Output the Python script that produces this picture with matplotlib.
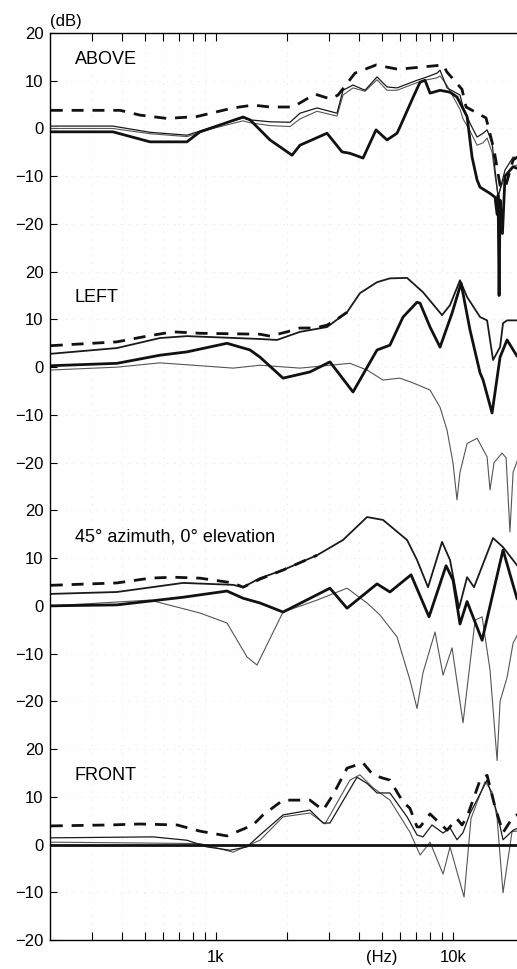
import matplotlib.pyplot as plt
import numpy as np
from matplotlib.ticker import NullFormatter

plt.rcParams['font.family'] = ['Liberation Sans', 'DejaVu Sans']

# four stacked panels, each drawn about its own zero, 50 dB apart
panel_names = ["ABOVE", "LEFT", "45\u00b0 azimuth, 0\u00b0 elevation", "FRONT"]
panel_offsets = [150, 100, 50, 0]

# ---- ABOVE ----
above_sum_f = [201, 394, 478, 621, 831, 1180, 1433, 1690, 2113, 2617, 3030, 3272, 3859,
               4733, 5861, 7470, 9075, 9434, 10910, 11350, 13780, 14890, 15790, 16570,
               17920, 20000]
above_sum_db = [3.8, 3.8, 2.8, 2.1, 2.5, 4.3, 4.9, 4.5, 4.5, 7.2, 6.2, 7.0, 11.6,
                13.3, 12.4, 12.9, 13.3, 11.8, 8.2, 4.5, 2.2, -4.5, -11.9, -12.5,
                -6.6, -5.0]

above_thin_f = [201, 367, 527, 754, 971, 1300, 1392, 1690, 2052, 2262, 2668, 3240, 3435,
                3785, 4254, 4779, 5266, 5803, 7049, 7768, 8561, 8814, 9434, 10700, 11020,
                11790, 12630, 13390, 13920, 14610, 15040, 15490, 16570, 17920, 20000]
above_thin_db = [0.5, 0.5, -0.8, -1.4, 0.3, 2.2, 1.8, 1.4, 1.3, 3.2, 4.3, 3.2, 8.0,
                 9.1, 8.0, 10.8, 8.7, 8.5, 10.1, 10.8, 11.6, 12.2, 8.5, 7.0, 4.5,
                 1.1, -1.8, -1.0, -0.3, -3.0, -8.7, -14.4, -8.7, -6.0, -6.5]
above_grey_db = [0.0, 0.0, -1.1, -1.7, 0.0, 1.6, 1.2, 0.6, 0.4, 2.0, 3.6, 2.6, 7.0,
                 8.5, 7.8, 10.2, 8.0, 8.0, 9.6, 10.2, 10.6, 11.0, 9.0, 4.0, 2.0,
                 -0.5, -3.5, -3.0, -2.0, -5.0, -10.0, -14.0, -10.0, -8.0, -7.0]

above_thick_f = [201, 367, 527, 754, 856, 1300, 1392, 1690, 2093, 2262, 2940, 3401, 3673,
                 4172, 4733, 5266, 5803, 5968, 6795, 7259, 7617, 7998, 8814, 9712, 10390,
                 11460, 12030, 12630, 13000, 14320, 15030, 15340, 15490, 15640, 15790,
                 16160, 16570, 17920, 20000]
above_thick_db = [-0.7, -0.7, -2.8, -2.8, -0.7, 2.4, 1.8, -2.4, -5.6, -3.5, -1.0, -4.9, -5.2,
                  -6.2, -0.3, -2.4, -1.0, 0.3, 6.6, 9.7, 10.1, 7.4, 8.0, 7.6, 6.6,
                  2.5, -6.0, -10.8, -12.3, -13.6, -14.4, -18.0, -14.0, -35.0, -15.0,
                  -22.0, -10.0, -8.0, -9.0]

# ---- LEFT ----
left_sum_f = [201, 382, 512, 658, 856, 1533, 1690, 1993, 2262, 2617, 2940, 3272, 3571]
left_sum_db = [4.5, 5.3, 6.5, 7.4, 7.1, 6.9, 6.5, 7.4, 8.2, 8.2, 8.8, 10.2, 11.5]

left_thin_f = [201, 382, 580, 754, 1533, 1809, 2262, 2940, 3571, 4048, 4779, 5416, 6397,
               7470, 8987, 9712, 10700, 11460, 13000, 13920, 14750, 15790, 16250, 16900,
               18620, 20000]
left_thin_db = [2.8, 4.0, 6.1, 6.5, 5.9, 5.7, 7.4, 8.4, 11.5, 15.5, 17.8, 18.6, 18.7,
                15.7, 10.9, 13.0, 18.2, 14.7, 10.5, 9.8, 1.5, 4.2, 9.2, 9.8,
                9.8, 9.5]

left_thick_f = [201, 382, 580, 754, 1113, 1392, 1533, 1918, 2491, 3025, 3785, 4779, 5416,
                6152, 7049, 7259, 7998, 8814, 9904, 10810, 11790, 13000, 13390, 14610,
                15790, 16900, 18620, 20000]
left_thick_db = [0.3, 0.8, 2.5, 3.2, 5.0, 3.6, 2.1, -2.3, -1.0, 1.1, -5.2, 3.6, 4.6,
                 10.5, 13.6, 13.4, 8.4, 4.2, 11.3, 17.6, 7.8, -1.2, -2.7, -9.6,
                 2.1, 5.7, 2.3, 2.0]

left_grey_f = [201, 382, 580, 916, 1180, 1533, 2262, 3673, 4337, 5065, 5968, 6780, 7998,
               8814, 9434, 10000, 10390, 10700, 11460, 12630, 13920, 14320, 14890, 16100,
               16740, 17380, 17920, 19200, 20000]
left_grey_db = [-0.6, 0.0, 0.9, 0.2, -0.2, 0.4, -0.2, 0.8, -0.6, -2.7, -2.3, -3.3, -4.8,
                -8.4, -13.2, -20.1, -27.8, -22.0, -16.0, -14.9, -18.8, -25.7, -20.0, -18.0,
                -19.0, -34.5, -22.0, -18.0, -17.0]

# ---- 45 deg azimuth ----
d45_sum_f = [201, 382, 527, 658, 856, 1180, 1300, 1533, 1918, 2668]
d45_sum_db = [4.3, 4.8, 5.8, 6.0, 5.8, 4.8, 3.9, 5.6, 7.5, 10.6]

d45_thin_f = [201, 382, 726, 1180, 1300, 1533, 1918, 2668, 3435, 4337, 5065, 6397, 7049,
              7843, 8987, 9712, 10600, 11460, 12260, 14750, 16250, 18620, 20000]
d45_thin_db = [2.5, 2.9, 4.8, 4.4, 3.9, 5.8, 7.5, 10.6, 13.8, 18.6, 18.0, 13.8, 9.6,
               3.9, 13.4, 9.6, -0.5, 6.0, 3.9, 14.2, 12.3, 8.5, 7.5]

d45_thick_f = [201, 382, 726, 1113, 1300, 1533, 1918, 3025, 3571, 4779, 5416, 6651, 7919,
               9343, 10000, 10700, 11460, 13260, 16250, 18620, 20000]
d45_thick_db = [0.0, 0.2, 1.8, 3.1, 1.6, 0.6, -1.3, 3.7, -0.5, 4.6, 2.9, 6.5, -2.3,
                8.4, 5.4, -3.8, 0.9, -7.2, 11.7, 1.5, 0.0]

d45_grey_f = [201, 527, 856, 1113, 1351, 1489, 1918, 2668, 3571, 4337, 4915, 5803, 6577,
              7049, 7470, 8395, 9075, 9904, 11020, 12390, 13260, 14320, 15340, 15790,
              16900, 17920, 19200, 20000]
d45_grey_db = [0.0, 1.2, -1.5, -3.6, -10.7, -12.4, -1.3, 1.2, 3.7, 0.6, -1.9, -6.5, -15.5,
               -21.5, -14.0, -5.5, -14.5, -8.8, -24.5, -3.0, -2.3, -13.4, -32.4, -20.0,
               -15.0, -7.8, -5.0, -4.0]

# ---- FRONT ----
front_sum_f = [201, 357, 478, 685, 856, 1113, 1433, 1579, 1918, 2491, 2830, 3116, 3571,
               4172, 4597, 5065, 5416, 6152, 6577, 7049, 7259, 7998, 9434, 10390, 10910,
               11460, 13000, 13920, 15030, 16250, 17920, 20000]
front_sum_db = [3.9, 4.1, 4.3, 4.1, 2.8, 1.8, 4.1, 6.2, 9.3, 9.3, 7.2, 10.4, 16.0,
                17.1, 14.6, 13.9, 13.5, 8.9, 7.6, 3.7, 3.7, 6.4, 3.0, 5.4, 4.1,
                5.8, 13.5, 14.5, 7.9, 2.5, 5.8, 7.0]

front_thin_f = [201, 542, 754, 916, 1146, 1351, 1533, 1918, 2491, 2830, 3025, 3934, 4337,
                4779, 5416, 6397, 7049, 7470, 8153, 9075, 9712, 10390, 11020, 11790, 13920,
                15340, 16250, 17920, 20000]
front_thin_db = [1.4, 1.6, 0.9, -0.5, -1.2, -0.5, 2.0, 6.2, 7.2, 4.5, 4.5, 14.1, 12.8,
                 10.8, 10.8, 5.8, 2.0, 1.6, 4.1, 2.4, 3.5, 1.0, 2.5, 6.5, 13.5,
                 6.6, 1.0, 3.0, 4.0]

front_grey_f = [201, 856, 1180, 1533, 1918, 2491, 2884, 3673, 4048, 4597, 5416, 6577, 7259,
                7998, 9075, 9712, 11130, 11910, 13650, 14610, 15340, 16250, 17740, 20000]
front_grey_db = [0.5, 0.2, -1.6, 0.9, 5.8, 6.6, 4.3, 13.5, 14.6, 11.9, 9.3, 2.6, -2.2,
                 0.5, -6.2, -0.5, -11.0, 5.5, 13.2, 11.0, 5.5, -10.1, 2.7, 3.0]

front_ref_f = [200, 20000]
front_ref_db = [0.0, 0.0]

thin = dict(color='#1a1a1a', lw=0.9)
mid = dict(color='#1a1a1a', lw=1.3)
grey = dict(color='#555555', lw=0.8)
thick = dict(color='#111111', lw=2.0)
dash = dict(color='#111111', lw=2.0, dashes=(4.3, 3.2))

panels = [
    [(above_thin_f, above_grey_db, grey), (above_thin_f, above_thin_db, thin),
     (above_thick_f, above_thick_db, thick), (above_sum_f, above_sum_db, dash)],
    [(left_grey_f, left_grey_db, grey), (left_thin_f, left_thin_db, mid),
     (left_thick_f, left_thick_db, thick), (left_sum_f, left_sum_db, dash)],
    [(d45_grey_f, d45_grey_db, grey), (d45_thin_f, d45_thin_db, mid),
     (d45_thick_f, d45_thick_db, thick), (d45_sum_f, d45_sum_db, dash)],
    [(front_grey_f, front_grey_db, grey), (front_thin_f, front_thin_db, thin),
     (front_ref_f, front_ref_db, thick), (front_sum_f, front_sum_db, dash)],
]

fig = plt.figure(figsize=(5.17, 9.69), dpi=100)
ax = fig.add_axes([50.3 / 517, 29 / 969, 474.1 / 517, 907 / 969])

for name, off, curves in zip(panel_names, panel_offsets, panels):
    for f, db, style in curves:
        ax.plot(f, np.array(db) + off, solid_capstyle='butt', **style)
    ax.text(254, off + 14.5, name, fontsize=13, va='center', ha='left')

ax.set_xscale('log')
ax.set_xlim(200, 20000)
ax.set_ylim(-20, 170)

ax.set_xticks([1000, 10000], labels=['1k', '10k'])
ax.set_xticks([300, 400, 500, 600, 700, 800, 900,
               2000, 3000, 4000, 5000, 6000, 7000, 8000, 9000], minor=True)
ax.xaxis.set_minor_formatter(NullFormatter())

yt, yl = [], []
for off in panel_offsets:
    for v in [20, 10, 0, -10, -20]:
        yt.append(off + v)
        yl.append('\u2212%d' % -v if v < 0 else '%d' % v)
ax.set_yticks(yt, labels=yl)

ax.tick_params(axis='x', which='both', direction='in', top=True, length=6, width=0.8,
               labelsize=12, pad=7)
ax.tick_params(axis='y', direction='in', length=5, width=0.8, labelsize=12, pad=5)
ax.spines['right'].set_visible(False)
for s in ['left', 'top', 'bottom']:
    ax.spines[s].set_linewidth(1.0)

ax.grid(True, which='minor', axis='x', color='#e6e6e6', lw=0.7, ls=(0, (1, 7)))
ax.grid(True, which='major', axis='y', color='#e6e6e6', lw=0.7, ls=(0, (1, 7)))

ax.annotate('(dB)', xy=(0, 1), xycoords='axes fraction', xytext=(0, 3),
            textcoords='offset points', ha='left', va='bottom', fontsize=12)
ax.annotate('(Hz)', xy=(5000, 0), xycoords=('data', 'axes fraction'), xytext=(0, -7),
            textcoords='offset points', ha='center', va='top', fontsize=12)

fig.savefig('out.png', dpi=100)
